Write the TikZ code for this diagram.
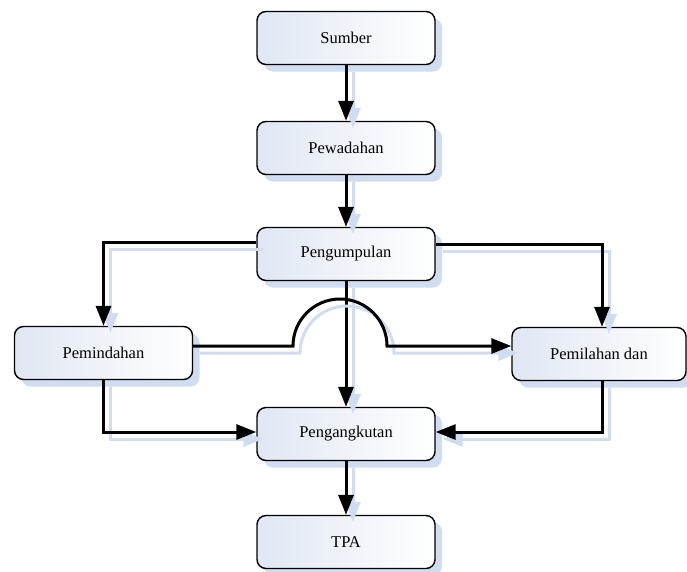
\documentclass[tikz,border=0pt]{standalone}
\usepackage{fontspec}
\setmainfont{Liberation Serif}
\usetikzlibrary{arrows.meta,shadows,calc}
\definecolor{shadowc}{RGB}{208,220,239}
\definecolor{fillc}{RGB}{224,231,243}
\tikzset{
  box/.style={draw=black, line width=1.4pt, rounded corners=9pt,
    minimum width=178pt, minimum height=53pt, inner sep=0pt,
    left color=fillc, right color=white,
    font=\rmfamily\fontsize{16.5}{18}\selectfont,
    drop shadow={shadow xshift=7pt, shadow yshift=-7pt, fill=shadowc, opacity=1}},
  conn/.style={line width=3pt, draw=black,
    -{Triangle[length=20pt,width=15pt]},
    preaction={draw=shadowc, line width=3pt, -{Triangle[length=20pt,width=15pt]},
      transform canvas={shift={(7pt,-7pt)}}}},
}
\begin{document}
\begin{tikzpicture}[x=1pt,y=-1pt]
\useasboundingbox (0,0) rectangle (687,571);
\node[box] (sumber) at (346,38) {Sumber};
\node[box] (pewadahan) at (346,148) {Pewadahan};
\node[box] (pengumpulan) at (346,254) {Pengumpulan};
\node[box] (pemindahan) at (103.5,353) {Pemindahan};
\node[box, minimum width=174pt] (pemilahan) at (599,354) {Pemilahan dan};
\node[box] (pengangkutan) at (346,434) {Pengangkutan};
\node[box] (tpa) at (346,542) {TPA};

\draw[conn] (sumber.south) -- (pewadahan.north);
\draw[conn] (pewadahan.south) -- (pengumpulan.north);
\draw[conn] (pengumpulan.south) -- (pengangkutan.north);
\draw[conn] (pengangkutan.south) -- (tpa.north);

\draw[conn] ([yshift=12pt]pengumpulan.west) -| (pemindahan.north);
\draw[conn] ([yshift=10pt]pengumpulan.east) -| ([xshift=3pt]pemilahan.north);

\coordinate (j1) at (293,346);
\draw[conn] (pemindahan.east |- j1) -- (j1) arc[start angle=180, end angle=360, radius=47] -- (pemilahan.west |- j1);

\coordinate (b1) at (0,432);
\draw[conn] (pemindahan.south) -- (pemindahan.south |- b1) -- (pengangkutan.west |- b1);
\draw[conn] ([xshift=3pt]pemilahan.south) -- ([xshift=3pt]pemilahan.south |- b1) -- (pengangkutan.east |- b1);
\end{tikzpicture}
\end{document}
